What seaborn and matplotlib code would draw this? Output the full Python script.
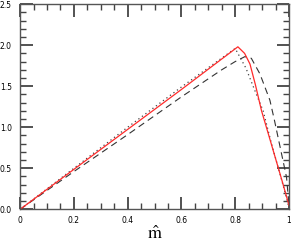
import numpy as np
import pandas as pd
import seaborn as sns
from matplotlib import pyplot as plt
from matplotlib.ticker import MultipleLocator

# red solid curve
red_x = [0.0, 0.3, 0.6, 0.81, 0.835, 0.855, 0.875, 0.898, 0.925, 0.95, 0.975, 1.0]
red_y = [0.0, 0.73, 1.46, 1.98, 1.90, 1.77, 1.52, 1.20, 0.90, 0.62, 0.34, 0.05]

# black dotted curve
dot_x = [0.0, 0.2, 0.4, 0.6, 0.80, 0.84, 0.874, 0.904, 0.935, 0.965, 0.99, 1.0]
dot_y = [0.0, 0.50, 1.00, 1.49, 1.96, 1.72, 1.44, 1.20, 0.80, 0.45, 0.15, 0.02]

# black dashed curve
dash_x = [0.0, 0.2, 0.4, 0.6, 0.75, 0.80, 0.836, 0.86, 0.892, 0.929, 0.945, 0.967, 0.991, 1.0]
dash_y = [0.0, 0.46, 0.91, 1.37, 1.70, 1.80, 1.86, 1.84, 1.65, 1.33, 1.10, 0.76, 0.39, 0.05]

x_major = [0, 0.2, 0.4, 0.6, 0.8, 1.0]
x_labels = ['0', '0.2', '0.4', '0.6', '0.8', '1']
y_major = [0, 0.5, 1.0, 1.5, 2.0, 2.5]
y_labels = ['0.0', '0.5', '1.0', '1.5', '2.0', '2.5']


def main():
    plt.rcParams['mathtext.fontset'] = 'stix'

    fig = plt.figure(figsize=(2.91, 2.42), dpi=100)
    ax = fig.add_axes([0.069, 0.135, 0.924, 0.848])

    red = pd.DataFrame({'x': red_x, 'y': red_y})
    dot = pd.DataFrame({'x': dot_x, 'y': dot_y})
    dash = pd.DataFrame({'x': dash_x, 'y': dash_y})

    sns.lineplot(x='x', y='y', data=dot, color='#444444', linestyle=(0, (1, 2.5)),
                 linewidth=0.9, sort=False, ax=ax)
    sns.lineplot(x='x', y='y', data=dash, color='#333333', linestyle=(0, (6, 4)),
                 linewidth=0.8, sort=False, ax=ax)
    sns.lineplot(x='x', y='y', data=red, color='#ff2a2a', linewidth=0.9,
                 sort=False, ax=ax)

    ax.set_xlim(0, 1)
    ax.set_ylim(0, 2.5)
    ax.set_xticks(x_major)
    ax.set_xticklabels(x_labels)
    ax.set_yticks(y_major)
    ax.set_yticklabels(y_labels)
    ax.xaxis.set_minor_locator(MultipleLocator(0.05))
    ax.yaxis.set_minor_locator(MultipleLocator(0.1))

    ax.tick_params(which='both', direction='in', top=True, right=True,
                   color='#444444', labelcolor='black', labelsize=5.5)
    ax.tick_params(which='major', length=9, width=1.3)
    ax.tick_params(which='minor', length=4.5, width=1.0)
    ax.tick_params(axis='x', pad=5)
    ax.tick_params(axis='y', pad=6)

    for s in ax.spines.values():
        s.set_color('#555555')
        s.set_linewidth(1.0)

    ax.set_xlabel(r'$\hat{\mathrm{m}}$', fontsize=13, labelpad=0)
    ax.set_ylabel('')

    fig.savefig('out.png', dpi=100)


if __name__ == '__main__':
    main()
